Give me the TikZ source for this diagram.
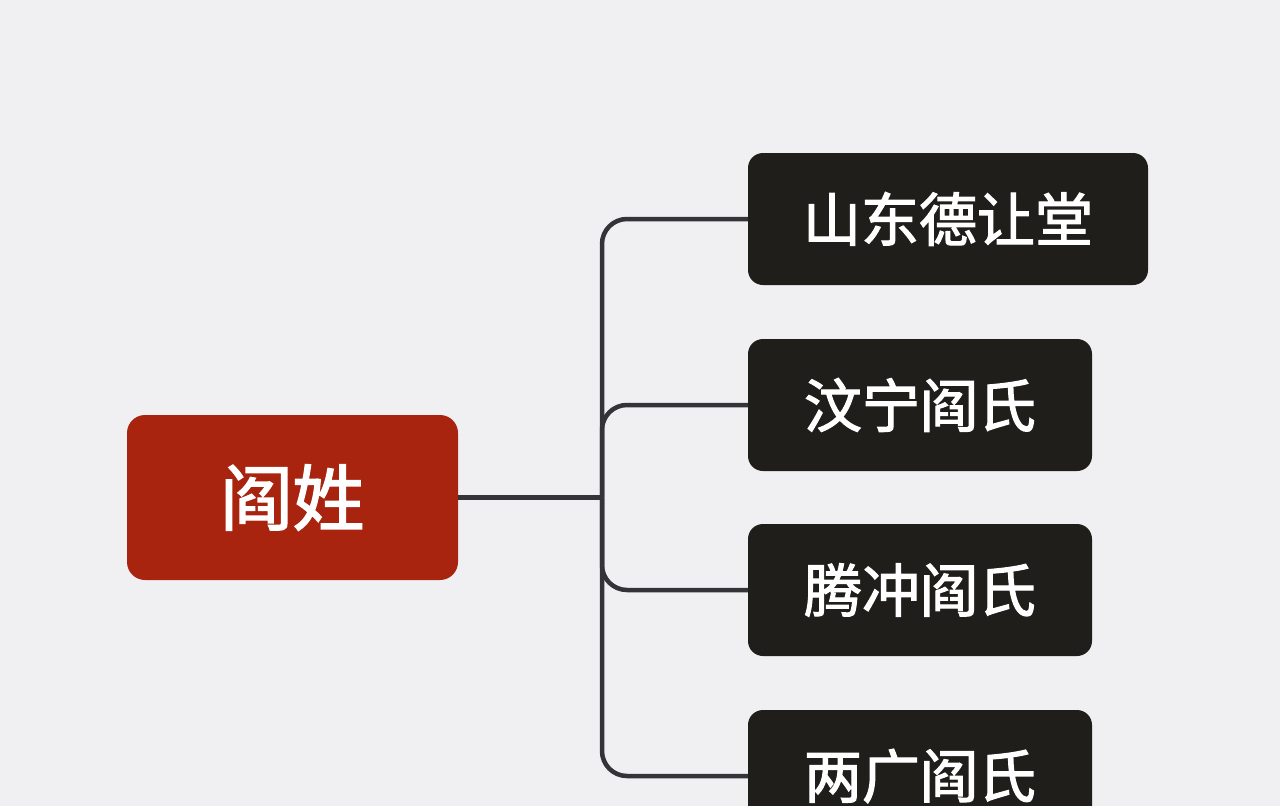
\documentclass[tikz,border=0pt]{standalone}
\usepackage{fontspec}
\newfontfamily\cjk[FakeBold=2]{Noto Sans CJK SC}
\definecolor{bgc}{HTML}{F0F0F2}
\definecolor{rootc}{HTML}{A8240F}
\definecolor{boxc}{HTML}{201E1B}
\definecolor{linec}{HTML}{333338}
\tikzset{
  rootbox/.style={draw=none, fill=rootc, rounded corners=18pt, minimum width=331pt, minimum height=165pt, inner sep=0pt, text=white, font=\cjk\fontsize{72}{80}\selectfont},
  childbox/.style={draw=none, fill=boxc, rounded corners=15pt, minimum height=132pt, inner sep=0pt, text=white, font=\cjk\fontsize{58}{64}\selectfont},
  conn/.style={draw=linec, line width=4.5pt, rounded corners=25pt}
}
\begin{document}
\begin{tikzpicture}[x=1pt,y=-1pt]
\fill[bgc] (0,0) rectangle (1280,806);
\useasboundingbox (0,0) rectangle (1280,806);
\begin{scope}
\clip (0,0) rectangle (1280,806);
\coordinate (j) at (602,497.5);
\node[rootbox] (root) at (292.5,497.5) {阎姓};
\node[childbox, minimum width=400pt] (c1) at (948,219) {山东德让堂};
\node[childbox, minimum width=344pt] (c2) at (920,405) {汶宁阎氏};
\node[childbox, minimum width=344pt] (c3) at (920,590) {腾冲阎氏};
\node[childbox, minimum width=344pt] (c4) at (920,776) {两广阎氏};
\draw[conn] (root.east) -- (j);
\draw[conn] (j) |- (c1.west);
\draw[conn] (j) |- (c2.west);
\draw[conn] (j) |- (c3.west);
\draw[conn] (j) |- (c4.west);
\end{scope}
\end{tikzpicture}
\end{document}
